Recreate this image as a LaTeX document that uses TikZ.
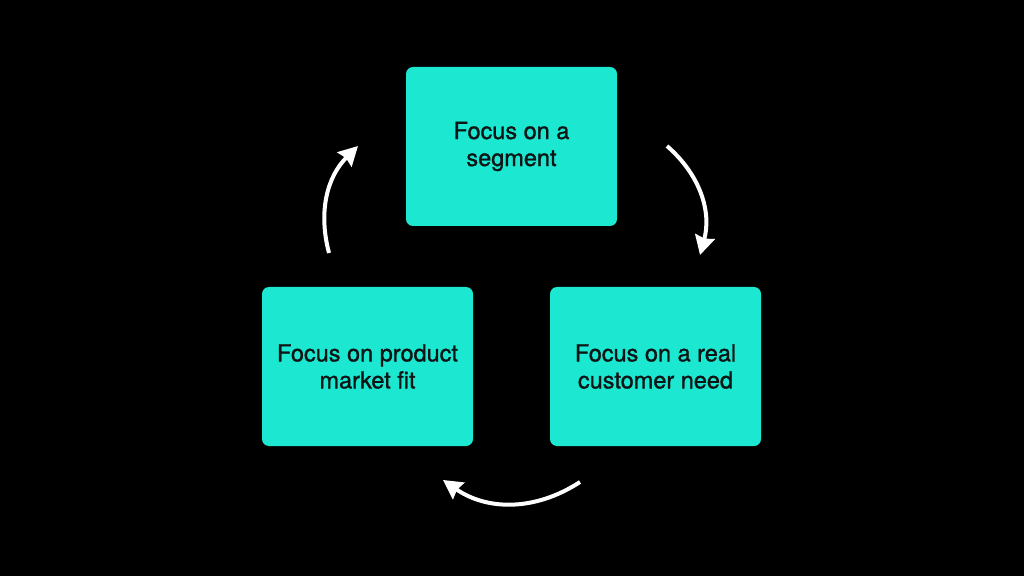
\documentclass[tikz,border=0pt]{standalone}
\usepackage{fontspec}
\setmainfont{TeX Gyre Heros}
\newfontfamily\boxfont{TeX Gyre Heros}[FakeBold=1.2]
\usetikzlibrary{arrows.meta,positioning}
\definecolor{boxcolor}{RGB}{28,232,210}
\definecolor{textcolor}{RGB}{15,20,20}

\begin{document}
\begin{tikzpicture}[x=1pt, y=1pt, >={Stealth[length=19pt, width=20pt, inset=2pt]},
    stagebox/.style={fill=boxcolor, rounded corners=7pt, minimum width=211pt,
      minimum height=159pt, align=center, text=textcolor,
      font=\boxfont\fontsize{23.5}{27}\selectfont},
    cyclearrow/.style={->, white, line width=4pt}]
    % --- background ---
    \fill[black] (0,0) rectangle (1024,576);
    \useasboundingbox (0,0) rectangle (1024,576);
    % --- the three stages ---
    \node[stagebox] (segment) at (511.5,429.5) {Focus on a\\segment};
    \node[stagebox] (need) at (655.5,209.5) {Focus on a real\\customer need};
    \node[stagebox] (fit) at (367.5,209.5) {Focus on product\\market fit};
    % --- arrow ends ---
    \coordinate (segOut) at (667,430);
    \coordinate (needIn) at (700,321);
    \coordinate (needOut) at (580,94);
    \coordinate (fitIn) at (443,96);
    \coordinate (fitOut) at (329,323);
    \coordinate (segIn) at (358,430);
    % --- cycle arrows ---
    \draw[cyclearrow] (segOut) to[bend left=32] (needIn);
    \draw[cyclearrow] (needOut) to[bend left=34] (fitIn);
    \draw[cyclearrow] (fitOut) to[bend left=30] (segIn);
  \end{tikzpicture}
\end{document}
